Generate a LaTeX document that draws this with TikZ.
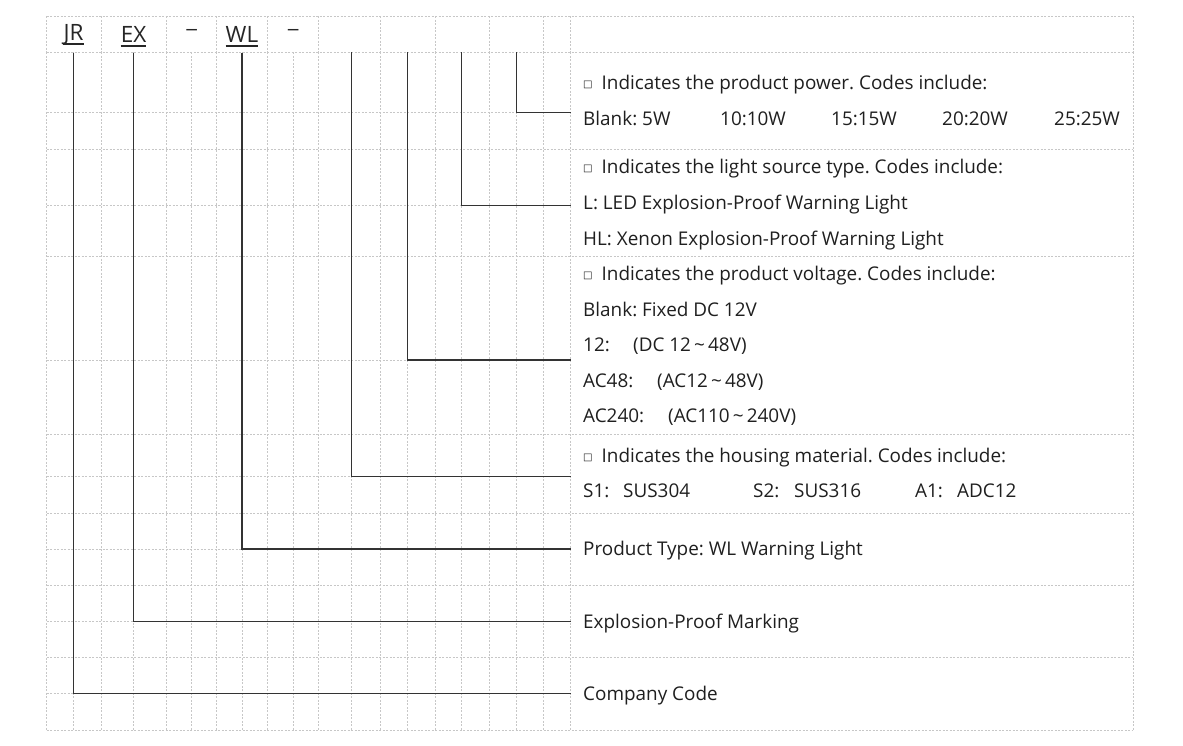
\documentclass[tikz,border=0pt]{standalone}
\usepackage{fontspec}
\setmainfont{Open Sans}
\newfontfamily\boxfont{DejaVu Sans}
\newcommand{\sq}{\raisebox{2pt}{\boxfont\fontsize{10}{12}\selectfont □}\hspace{9pt}}
\frenchspacing

\begin{document}
\begin{tikzpicture}[x=1pt, y=-1pt, font=\fontsize{18.9}{20}\selectfont,
        grid/.style={black!22, dash pattern=on 2pt off 1.5pt, line width=.6pt},
        conn/.style={black!80, line width=1.3pt},
        uline/.style={black!85, line width=2pt},
        code/.style={minimum height=36.3pt, inner sep=0pt, text=black!85, font=\fontsize{22.5}{24}\selectfont},
        desc/.style={anchor=base west, inner sep=0pt, text=black!88}]
    \useasboundingbox (0,0) rectangle (1183,745);

    % grid
    \foreach \x in {46.5,73.5,101,133.5,166,191.7,216.7,242,267.7,293.3,318.3,351.5,380,407.3,435,461.7,489.3,516.7,543.3,570.7}
        \draw[grid] (\x,52.3) -- (\x,730);
    \foreach \x in {46.5,101,166,216.7,267.7,318.3,380,435,489.3,543.3,570.7,1133}
        \draw[grid] (\x,16) -- (\x,52.3);
    \draw[grid] (1133,52.3) -- (1133,730);
    \foreach \y in {16,52.3,149,256.7,434.3,513.3,585.7,657.3,730}
        \draw[grid] (46.5,\y) -- (1133,\y);
    \foreach \y in {112.3,205.7,360,476.7,549,621.7,693.3}
        \draw[grid] (46.5,\y) -- (570.7,\y);

    % code letters
    \node[code] (jr) at (73.5,34.15) {JR};
    \node[code] (ex) at (133.5,34.15) {EX};
    \node[code] (dash1) at (191.7,32.7) {\boxfont\fontsize{17}{18}\selectfont −};
    \node[code] (wl) at (242,34.15) {WL};
    \node[code] (dash2) at (293.3,32.7) {\boxfont\fontsize{17}{18}\selectfont −};
    \foreach \n in {jr,ex,wl}
        \draw[uline] ([yshift=-4.3pt]\n.base west) -- ([yshift=-4.3pt]\n.base east);
    \coordinate (housing) at (351.5,52.3);
    \coordinate (voltage) at (407.3,52.3);
    \coordinate (source) at (461.7,52.3);
    \coordinate (power) at (516.7,52.3);

    % line ends
    \coordinate (powerend) at (570.7,112.3);
    \coordinate (sourceend) at (570.7,205.7);
    \coordinate (voltageend) at (570.7,360);
    \coordinate (housingend) at (570.7,476.7);
    \coordinate (wlend) at (570.7,549);
    \coordinate (exend) at (570.7,621.7);
    \coordinate (jrend) at (570.7,693.3);

    \draw[conn] (power) |- (powerend);
    \draw[conn] (source) |- (sourceend);
    \draw[conn] (voltage) |- (voltageend);
    \draw[conn] (housing) |- (housingend);
    \draw[conn] (wl.south) |- (wlend);
    \draw[conn] (ex.south) |- (exend);
    \draw[conn] (jr.south) |- (jrend);

    % descriptions
    \node[desc] (powerhead) at (583,89.3) {\sq Indicates the product power. Codes include:};
    \node[desc] (power5) at (583,125) {Blank: 5W};
    \node[desc] (power10) at (720,125) {10:10W};
    \node[desc] (power15) at (831,125) {15:15W};
    \node[desc] (power20) at (942,125) {20:20W};
    \node[desc] (power25) at (1054,125) {25:25W};

    \node[desc] (sourcehead) at (583,173.5) {\sq Indicates the light source type. Codes include:};
    \node[desc] (sourcel) at (583,209.5) {L: LED Explosion-Proof Warning Light};
    \node[desc] (sourcehl) at (583,245.5) {HL: Xenon Explosion-Proof Warning Light};

    \node[desc] (voltagehead) at (583,280.5) {\sq Indicates the product voltage. Codes include:};
    \node[desc] (voltblank) at (583,316) {Blank: Fixed DC 12V};
    \node[desc] (volt12) at (583,351.5) {12:};
    \node[desc] (volt12r) at (633,351.5) {(DC 12\,\char`~\,48V)};
    \node[desc] (volt48) at (583,387) {AC48:};
    \node[desc] (volt48r) at (657,387) {(AC12\,\char`~\,48V)};
    \node[desc] (volt240) at (583,422.5) {AC240:};
    \node[desc] (volt240r) at (668,422.5) {(AC110\,\char`~\,240V)};

    \node[desc] (housinghead) at (583,462) {\sq Indicates the housing material. Codes include:};
    \node[desc] (housings1) at (583,497.5) {S1:};
    \node[desc] (housings1r) at (623,497.5) {SUS304};
    \node[desc] (housings2) at (753,497.5) {S2:};
    \node[desc] (housings2r) at (794,497.5) {SUS316};
    \node[desc] (housinga1) at (915,497.5) {A1:};
    \node[desc] (housinga1r) at (957,497.5) {ADC12};

    \node[desc] (wltext) at (583,555.5) {Product Type: WL Warning Light};
    \node[desc] (extext) at (583,628.5) {Explosion-Proof Marking};
    \node[desc] (jrtext) at (583,700.5) {Company Code};
\end{tikzpicture}
\end{document}
